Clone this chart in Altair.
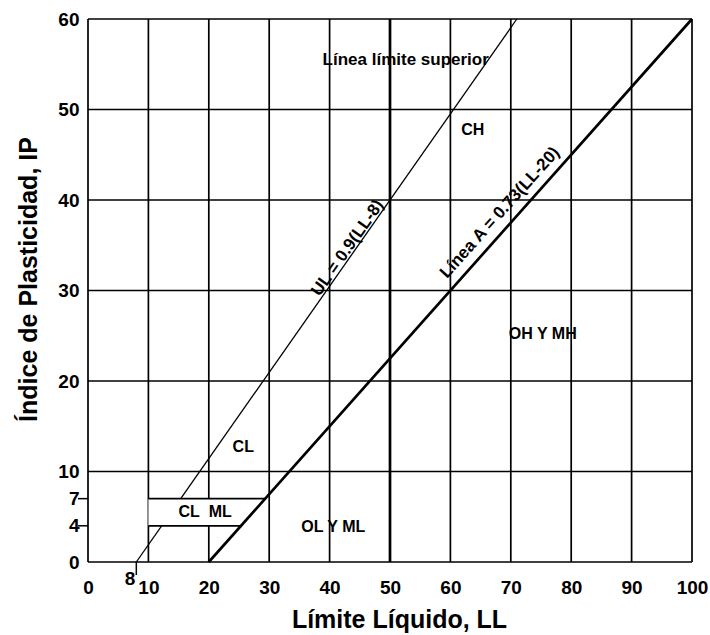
import altair as alt
import pandas as pd

# ---- data ----
x_grid = [0, 10, 20, 30, 40, 50, 60, 70, 80, 90, 100]
x_grid_width = [1.7, 1.7, 1.7, 1.7, 1.7, 2.7, 1.7, 1.7, 1.7, 1.7, 1.7]
y_grid = [0, 10, 20, 30, 40, 50, 60]
x_tick_labels = [0, 10, 20, 30, 40, 50, 60, 70, 80, 90, 100]
y_tick_labels = [0, 4, 7, 10, 20, 30, 40, 50, 60]
y_small_ticks = [4, 7]

ul_ll = [8, 71]
ul_ip = [0, 60]
a_ll = [20, 100]
a_ip = [0, 60]

box_ip = [4, 7]
box_left = [10, 10]
box_right = [25.3, 29.3]

zone_text = ["CL", "CL\u00a0\u00a0ML", "OL Y ML", "OH Y MH", "CH", "Línea límite superior"]
zone_x = [25.7, 19.4, 40.6, 75.3, 63.7, 52.6]
zone_y = [12.7, 5.5, 3.9, 25.2, 47.7, 55.5]
zone_size = [16, 16, 16, 16, 16, 17]

line_text = ["UL = 0.9(LL-8)", "Línea A = 0.73(LL-20)"]
line_text_x = [43.0, 68.2]
line_text_y = [34.7, 38.6]
line_text_angle = [305, 312]

FONT = "Liberation Sans"
xs = alt.Scale(domain=[0, 100], nice=False, zero=False)
ys = alt.Scale(domain=[0, 60], nice=False, zero=False)

vgrid = pd.DataFrame({"x": x_grid, "w": x_grid_width, "y0": 0, "y1": 60})
hgrid = pd.DataFrame({"y": y_grid, "x0": 0, "x1": 100})
ul = pd.DataFrame({"ll": ul_ll, "ip": ul_ip})
aline = pd.DataFrame({"ll": a_ll, "ip": a_ip})
box = pd.DataFrame({"ip": box_ip, "left": box_left, "right": box_right})
zones = pd.DataFrame({"t": zone_text, "x": zone_x, "y": zone_y, "s": zone_size})
ltxt = pd.DataFrame({"t": line_text, "x": line_text_x, "y": line_text_y, "a": line_text_angle})
ticks47 = pd.DataFrame({"y": y_small_ticks})

vlines = alt.Chart(vgrid).mark_rule(color="black").encode(
    x=alt.X("x:Q", scale=xs, axis=alt.Axis(
        values=x_tick_labels, ticks=False, domain=False, grid=False, labelFlush=False,
        labelFont=FONT, labelFontSize=19, labelFontWeight="bold", labelColor="black",
        labelPadding=16, title="Límite Líquido, LL", titleFont=FONT, titleFontSize=25,
        titleFontWeight="bold", titleColor="black", titleX=311, titleY=45)),
    y=alt.Y("y0:Q", scale=ys, axis=alt.Axis(
        values=y_tick_labels, ticks=False, domain=False, grid=False, labelFlush=False,
        labelFont=FONT, labelFontSize=19, labelFontWeight="bold", labelColor="black",
        labelPadding=9, title="Índice de Plasticidad, IP", titleFont=FONT, titleFontSize=25,
        titleFontWeight="bold", titleColor="black", titleX=-47, titleY=260)),
    y2="y1:Q",
    strokeWidth=alt.StrokeWidth("w:Q", scale=None, legend=None),
)

hlines = alt.Chart(hgrid).mark_rule(color="black", strokeWidth=1.7).encode(
    y=alt.Y("y:Q", scale=ys), x=alt.X("x0:Q", scale=xs), x2="x1:Q")

ul_line = alt.Chart(ul).mark_line(color="black", strokeWidth=1.3).encode(
    x=alt.X("ll:Q", scale=xs), y=alt.Y("ip:Q", scale=ys))

box_fill = alt.Chart(box).mark_area(color="white", opacity=1, orient="horizontal").encode(
    y=alt.Y("ip:Q", scale=ys), x=alt.X("left:Q", scale=xs), x2="right:Q")

box_lines = alt.Chart(box).mark_rule(color="black", strokeWidth=1.7).encode(
    y=alt.Y("ip:Q", scale=ys), x=alt.X("left:Q", scale=xs), x2="right:Q")

a_line = alt.Chart(aline).mark_line(color="black", strokeWidth=2.7).encode(
    x=alt.X("ll:Q", scale=xs), y=alt.Y("ip:Q", scale=ys))

small_ticks = alt.Chart(ticks47).mark_rule(color="black", strokeWidth=1.5).encode(
    y=alt.Y("y:Q", scale=ys), x=alt.value(-10), x2=alt.value(0))

eight_tick = alt.Chart(pd.DataFrame({"x": [8]})).mark_rule(color="black", strokeWidth=1.5).encode(
    x=alt.X("x:Q", scale=xs), y=alt.value(543), y2=alt.value(556))

eight_lbl = alt.Chart(pd.DataFrame({"x": [8], "t": ["8"]})).mark_text(
    font=FONT, fontSize=19, fontWeight="bold", color="black", align="right",
    baseline="middle", dx=-1).encode(
    x=alt.X("x:Q", scale=xs), y=alt.value(560), text="t:N")

zone_lbl = alt.Chart(zones).mark_text(
    font=FONT, fontWeight="bold", color="black", baseline="middle").encode(
    x=alt.X("x:Q", scale=xs), y=alt.Y("y:Q", scale=ys), text="t:N",
    size=alt.Size("s:Q", scale=None, legend=None))

line_lbl = alt.Chart(ltxt).mark_text(
    font=FONT, fontSize=17, fontWeight="bold", color="black", baseline="middle").encode(
    x=alt.X("x:Q", scale=xs), y=alt.Y("y:Q", scale=ys), text="t:N",
    angle=alt.Angle("a:Q", scale=None))

chart = alt.layer(
    vlines, hlines, ul_line, box_fill, box_lines, a_line,
    small_ticks, eight_tick, eight_lbl, zone_lbl, line_lbl,
).properties(
    width=604, height=543,
    padding={"left": 88, "top": 19, "right": 18, "bottom": 73},
    autosize=alt.AutoSizeParams(type="none"),
    background="white",
).configure_view(stroke=None)

chart.save("out.html", embed_options={"renderer": "svg", "actions": False})
